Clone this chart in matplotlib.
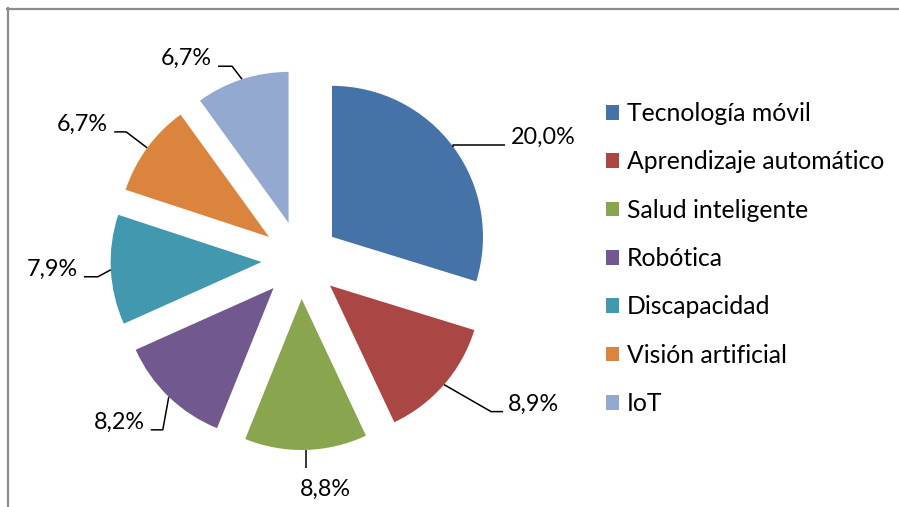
import numpy as np
import matplotlib
matplotlib.use("Agg")
import matplotlib.pyplot as plt
from matplotlib.lines import Line2D

categories = ["Tecnología móvil", "Aprendizaje automático", "Salud inteligente",
              "Robótica", "Discapacidad", "Visión artificial", "IoT"]
values = [20.0, 8.9, 8.8, 8.2, 7.9, 6.7, 6.7]
labels = ["20,0%", "8,9%", "8,8%", "8,2%", "7,9%", "6,7%", "6,7%"]
colors = ["#4572A7", "#AA4643", "#89A54E", "#71588F", "#4198AF", "#DB843D", "#93A9CF"]

W, H = 899, 507
FONT = "Lato"
FS = 16.8
LFS = 17.8

fig = plt.figure(figsize=(W / 100, H / 100), dpi=100)
ax = fig.add_axes([0, 0, 1, 1])

def py(y):
    return H - y

radius = 151
cx, cy = 300.6, py(260)
wedges, _ = ax.pie(values, colors=colors, startangle=90, counterclock=False,
                   radius=radius, center=(cx, cy), explode=[39] * len(values),
                   wedgeprops=dict(linewidth=0))
ax.set_xlim(0, W)
ax.set_ylim(0, H)
ax.set_aspect("equal")
ax.axis("off")

# leader layout: (elbow offset, end offset) relative to anchor in pixels (y down), text side
leaders = [
    ((0, -2.5), (52, -2.5), "right"),
    ((47, 27), (59, 27), "right"),
    ((0, 0), (0, 18), "below"),
    ((-6, 33), (-18, 33), "left"),
    ((-13, 7), (-27, 7), "left"),
    ((-21, -16), (-33, -16), "left"),
    ((-10, -13), (-24, -13), "left"),
]

for w, lab, (el, en, side) in zip(wedges, labels, leaders):
    mid = np.deg2rad((w.theta1 + w.theta2) / 2)
    ax_x = w.center[0] + w.r * np.cos(mid)
    ax_y = w.center[1] + w.r * np.sin(mid)
    xs = [ax_x, ax_x + el[0], ax_x + en[0]]
    ys = [ax_y, ax_y - el[1], ax_y - en[1]]
    ax.plot(xs, ys, color="black", lw=1.1, solid_capstyle="butt")
    ex, ey = xs[-1], ys[-1]
    if side == "right":
        ax.text(ex + 5, ey + 1, lab, ha="left", va="baseline", fontsize=FS, family=FONT)
    elif side == "left":
        ax.text(ex - 6, ey + 1, lab, ha="right", va="baseline", fontsize=FS, family=FONT)
    else:
        ax.text(ex + 19, ey - 28, lab, ha="center", va="baseline", fontsize=FS, family=FONT)

leg = ax.legend(wedges, categories, loc="upper left", bbox_to_anchor=(606, py(102)),
                bbox_transform=ax.transData, frameon=False, prop=dict(family=FONT, size=LFS),
                handlelength=0.53, handleheight=0.53, handletextpad=0.32,
                labelspacing=1.025, borderpad=0, borderaxespad=0)

# chart frame (extends beyond image on right/bottom)
fig.add_artist(Line2D([7 / W, 898 / W], [1 - 8.5 / H, 1 - 8.5 / H], color="#8c8c8c", lw=1.6))
fig.add_artist(Line2D([8 / W, 8 / W], [1 - 7.7 / H, 0], color="#8c8c8c", lw=1.6))

fig.savefig("out.png", dpi=100)
